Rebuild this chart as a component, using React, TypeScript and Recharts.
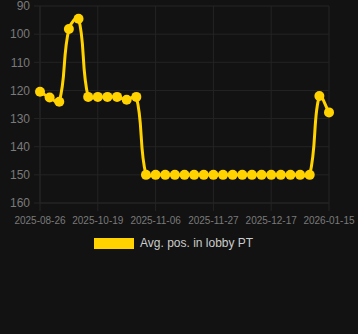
import { LineChart, Line, XAxis, YAxis, CartesianGrid, Legend } from 'recharts'

const dates = [
  '2025-08-26', '2025-09-04', '2025-09-13', '2025-09-22', '2025-10-01', '2025-10-10',
  '2025-10-19', '2025-10-22', '2025-10-25', '2025-10-28', '2025-10-31', '2025-11-03',
  '2025-11-06', '2025-11-09', '2025-11-13', '2025-11-16', '2025-11-20', '2025-11-23',
  '2025-11-27', '2025-11-30', '2025-12-04', '2025-12-07', '2025-12-10', '2025-12-14',
  '2025-12-17', '2025-12-22', '2025-12-27', '2026-01-01', '2026-01-06', '2026-01-11',
  '2026-01-15',
]

const avgPos = [
  120.5, 122.5, 124, 98.2, 94.5, 122.3,
  122.3, 122.3, 122.3, 123.3, 122.3, 150,
  150, 150, 150, 150, 150, 150,
  150, 150, 150, 150, 150, 150,
  150, 150, 150, 150, 150, 122,
  127.8,
]

const yTicks = [90, 100, 110, 120, 130, 140, 150, 160]

const seriesName = 'Avg. pos. in lobby PT'
const gold = '#ffd200'
const grid = '#242424'
const font = 'Arial, "Liberation Sans", Helvetica, sans-serif'

const data = dates.map((d, i) => ({ date: d, pos: avgPos[i] }))

// cardinal-ish spline with tension 0.4, same control point rule chart.js uses
// eslint-disable-next-line @typescript-eslint/no-explicit-any
function tensionCurve(ctx: any) {
  let pts: { x: number; y: number }[] = []
  const t = 0.4
  return {
    areaStart() {},
    areaEnd() {},
    lineStart() {
      pts = []
    },
    point(x: number, y: number) {
      pts.push({ x: +x, y: +y })
    },
    lineEnd() {
      const n = pts.length
      if (!n) return
      const cps = pts.map((p, i) => {
        const prev = pts[Math.max(i - 1, 0)]
        const next = pts[Math.min(i + 1, n - 1)]
        const d01 = Math.hypot(p.x - prev.x, p.y - prev.y)
        const d12 = Math.hypot(next.x - p.x, next.y - p.y)
        let s01 = d01 / (d01 + d12)
        let s12 = d12 / (d01 + d12)
        if (isNaN(s01)) s01 = 0
        if (isNaN(s12)) s12 = 0
        const fa = t * s01
        const fb = t * s12
        return {
          px: p.x - fa * (next.x - prev.x),
          py: p.y - fa * (next.y - prev.y),
          nx: p.x + fb * (next.x - prev.x),
          ny: p.y + fb * (next.y - prev.y),
        }
      })
      ctx.moveTo(pts[0].x, pts[0].y)
      for (let i = 1; i < n; i++) {
        ctx.bezierCurveTo(cps[i - 1].nx, cps[i - 1].ny, cps[i].px, cps[i].py, pts[i].x, pts[i].y)
      }
    },
  }
}

function LegendBox() {
  return (
    <div style={{ display: 'flex', alignItems: 'center', paddingLeft: 94, fontFamily: font, fontSize: 12, color: '#cccccc' }}>
      <span style={{ width: 40, height: 11, background: gold, marginRight: 6, display: 'inline-block' }} />
      <span>{seriesName}</span>
    </div>
  )
}

export default function App() {
  return (
    <div style={{ position: 'fixed', left: 0, top: 0, width: 358, height: 334, background: '#121212' }}>
      <LineChart width={358} height={334} data={data} margin={{ top: 6, right: 29, bottom: 78, left: 0 }}>
        <CartesianGrid stroke={grid} />
        <XAxis
          dataKey="date"
          interval={5}
          tick={{ fontSize: 10, fill: '#7a7a7a', fontFamily: font }}
          tickLine={{ stroke: grid }}
          axisLine={{ stroke: grid }}
          tickSize={8}
          tickMargin={6}
          height={33}
        />
        <YAxis
          reversed
          domain={[90, 160]}
          ticks={yTicks}
          interval={0}
          tick={{ fontSize: 12, fill: '#7a7a7a', fontFamily: font }}
          tickLine={{ stroke: grid }}
          axisLine={{ stroke: grid }}
          tickSize={6}
          tickMargin={4}
          width={40}
        />
        <Legend height={20} content={<LegendBox />} />
        <Line
          type={tensionCurve}
          dataKey="pos"
          name={seriesName}
          stroke={gold}
          strokeWidth={3}
          dot={{ r: 5, fill: gold, stroke: gold, strokeWidth: 0 }}
          isAnimationActive={false}
        />
      </LineChart>
    </div>
  )
}
